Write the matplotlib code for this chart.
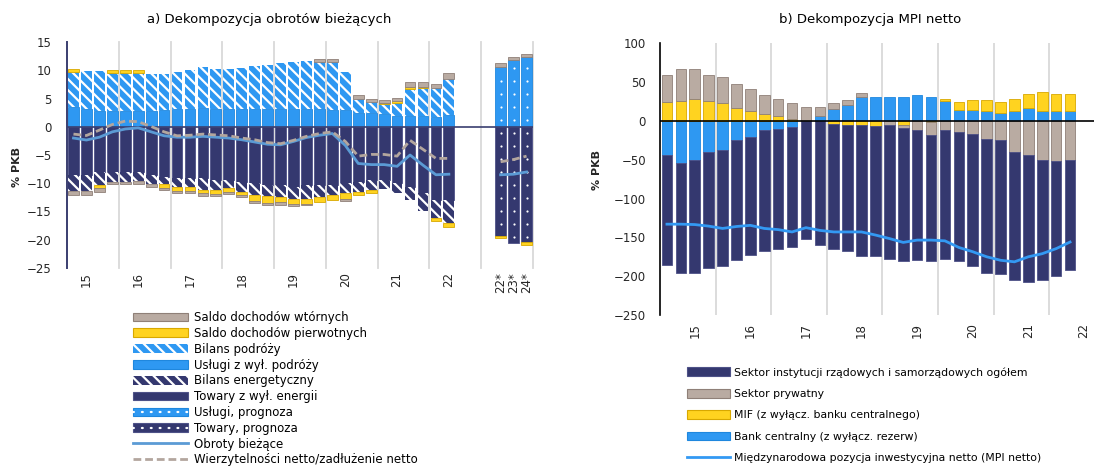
import matplotlib.pyplot as plt
from matplotlib.patches import Patch
from matplotlib.lines import Line2D
import numpy as np

# a) Dekompozycja obrotow biezacych, % PKB, 2015Q1-2022Q2
lata_a = ['15', '16', '17', '18', '19', '20', '21', '22']
uslugi = [3.5, 3.1, 2.8, 2.8, 2.8, 2.8, 2.8, 2.9, 3.2, 3.1, 3.4, 3.1, 3.2, 3.2, 3.1,
          3.2, 3.2, 3.2, 3.2, 3.2, 2.95, 2.95, 2.5, 2.5, 2.2, 1.9, 1.9, 1.9, 1.8, 2.1]
podroze = [6.2, 6.8, 7.1, 6.7, 6.7, 6.7, 6.6, 6.5, 6.5, 6.9, 7.2, 7.2, 7.1, 7.2, 7.6,
           7.7, 8.0, 8.2, 8.5, 8.3, 8.55, 6.75, 2.5, 1.9, 1.8, 2.35, 4.7, 4.9, 5.0, 6.3]
towary = [-8.55, -8.55, -8.0, -8.0, -8.0, -8.0, -8.55, -8.85, -9.1, -9.1, -9.1, -9.4, -9.4, -9.7, -9.9,
          -10.3, -10.3, -10.6, -10.3, -10.3, -10.3, -10.0, -9.7, -9.4, -9.4, -10.0, -10.6, -11.8, -13.0, -13.0]
energia = [-2.85, -2.85, -2.3, -1.7, -1.7, -1.6, -1.6, -1.35, -1.5, -1.6, -2.1, -1.8, -1.5, -1.8, -2.2,
           -2.0, -2.1, -2.1, -2.4, -2.1, -1.7, -1.8, -1.8, -1.8, -1.7, -1.7, -2.3, -3.1, -3.1, -4.1]
pierwotne = [0.5, 0.0, -0.6, 0.5, 0.5, 0.5, 0.0, -0.6, -0.7, -0.6, -0.6, -0.7, -0.6, -0.6, -1.0,
             -1.2, -1.0, -0.9, -0.9, -1.0, -1.0, -0.9, -0.5, -0.5, 0.25, 0.25, 0.35, 0.3, -0.5, -0.6]
wtorne = [-0.6, -0.6, -0.6, -0.5, -0.5, -0.5, -0.5, -0.4, -0.5, -0.5, -0.4, -0.4, -0.4, -0.4, -0.4,
          -0.4, -0.4, -0.4, -0.3, 0.45, 0.45, -0.4, 0.7, 0.45, 0.45, 0.5, 1.0, 0.8, 0.7, 1.05]
obroty = [-2.0, -2.35, -1.85, -0.9, -0.4, -0.2, -0.9, -1.6, -1.85, -1.85, -1.7, -1.85, -2.0, -2.3, -2.7,
          -3.1, -3.2, -2.6, -1.9, -1.5, -1.2, -3.3, -6.5, -6.7, -6.7, -7.0, -5.0, -6.8, -8.5, -8.4]
wierzytelnosci = [-1.3, -1.55, -0.6, 0.4, 1.0, 0.9, 0.05, -0.9, -1.6, -1.5, -1.3, -1.45, -1.6, -2.0, -2.3,
                  -2.8, -3.0, -2.4, -1.7, -1.2, -0.9, -2.6, -5.2, -4.9, -4.9, -5.2, -2.4, -4.0, -5.6, -5.6]

# prognoza 2022-2024
lata_prog = ['22*', '23*', '24*']
prog_uslugi = [10.6, 11.8, 12.4]
prog_towary = [-19.35, -20.5, -20.35]
prog_pierwotne = [-0.4, 0.0, -0.5]
prog_wtorne = [0.6, 0.5, 0.5]
prog_obroty = [-8.5, -8.4, -8.0]
prog_wierzytelnosci = [-6.2, -5.8, -5.2]

# b) Dekompozycja MPI netto, % PKB, 2015Q1-2022Q2
lata_b = ['15', '16', '17', '18', '19', '20', '21', '22']
bank = [-44.2, -54.1, -49.8, -39.9, -36.9, -24.9, -20.6, -12.0, -9.9, -7.7, 0.0, 6.9, 15.0, 20.2, 30.9,
        30.9, 30.9, 30.9, 33.1, 30.9, 25.3, 14.6, 14.6, 12.5, 10.7, 12.5, 17.2, 12.5, 12.5, 12.5]
mif = [24.5, 25.8, 27.9, 25.8, 23.6, 17.2, 12.9, 8.6, 6.4, 2.1, 0.0, 0.0, -4.3, -5.6, -5.6,
       -6.4, 0.0, -4.7, 0.0, -2.0, 3.5, 9.9, 12.0, 14.1, 13.8, 16.3, 18.0, 24.9, 22.7, 22.7]
prywatny = [34.3, 41.6, 39.5, 33.0, 33.1, 30.9, 28.7, 24.5, 22.4, 21.1, 18.0, 11.1, 8.2, 7.3, 5.2,
            0.0, -5.6, -4.3, -12.0, -16.5, -12.0, -14.2, -17.2, -22.8, -24.9, -39.9, -44.2, -50.7, -52.0, -50.7]
rzad = [-141.7, -141.7, -146.0, -149.4, -150.3, -153.7, -151.6, -155.9, -154.5, -154.6, -151.9, -160.2,
        -160.1, -162.3, -168.7, -167.9, -171.7, -171.3, -166.6, -161.8, -165.3, -166.1, -170.0, -172.6,
        -172.6, -165.3, -163.2, -154.5, -147.7, -140.8]
mpi = [-133, -133, -133.5, -135.5, -138.5, -136, -134.5, -138.5, -140, -143, -137.5, -141, -143, -143, -143,
       -147, -151.5, -156.5, -153.5, -153.5, -154.5, -163, -168.5, -175, -179.5, -181.5, -175, -171, -164.5, -156]

NAVY = '#34386F'
BLUE = '#2E98F2'
YELLOW = '#FFD320'
GRAY = '#B9ABA2'
HATCH = '\\\\\\'

plt.rcParams['hatch.linewidth'] = 1.6


def stacked(ax, x, series, styles, width):
    # positive parts go up from 0, negative parts go down from 0
    x = np.asarray(x, float)
    pos = np.zeros(len(x))
    neg = np.zeros(len(x))
    for vals, st in zip(series, styles):
        v = np.asarray(vals, float)
        base = np.where(v >= 0, pos, neg)
        keep = v != 0
        ax.bar(x[keep], v[keep], width, bottom=base[keep], zorder=2, **st)
        pos += np.clip(v, 0, None)
        neg += np.clip(v, None, 0)


def dotted(ax, x, vals, step):
    # sparse white dots inside forecast bars
    for xi, v in zip(x, vals):
        ys = np.arange(step / 2, abs(v) - step / 4, step) * np.sign(v)
        ax.scatter(np.full(len(ys), xi), ys, s=2.5, color='white', linewidths=0, zorder=3)


st_uslugi = dict(facecolor=BLUE, edgecolor='#1F87DE', linewidth=0.6)
st_podroze = dict(facecolor=BLUE, edgecolor='white', linewidth=0, hatch=HATCH)
st_towary = dict(facecolor=NAVY, edgecolor='#4E5288', linewidth=0.6)
st_energia = dict(facecolor=NAVY, edgecolor='white', linewidth=0, hatch=HATCH)
st_pierw = dict(facecolor=YELLOW, edgecolor='#D8A800', linewidth=0.6)
st_wtorne = dict(facecolor=GRAY, edgecolor='#8F8078', linewidth=0.6)

W, H = 1094, 474
fig = plt.figure(figsize=(W / 100, H / 100), dpi=100)

# ---------------- panel a ----------------
axA = fig.add_axes([67 / W, 1 - 268 / H, 466 / W, 226 / H])
n = len(uslugi)
xh = np.arange(n)
xp = np.arange(33, 36)

stacked(axA, xh, [uslugi, podroze, towary, energia, pierwotne, wtorne],
        [st_uslugi, st_podroze, st_towary, st_energia, st_pierw, st_wtorne], 0.83)
stacked(axA, xp, [prog_uslugi, prog_towary, prog_pierwotne, prog_wtorne],
        [st_uslugi, st_towary, st_pierw, st_wtorne], 0.83)
dotted(axA, xp, prog_uslugi, 2.3)
dotted(axA, xp, prog_towary, 2.3)

axA.plot(xh, obroty, color='#5B9BD5', lw=2.0, zorder=4)
axA.plot(xp, prog_obroty, color='#5B9BD5', lw=2.0, zorder=4)
axA.plot(xh, wierzytelnosci, color='#B3A69E', lw=2.0, dashes=(2.8, 1.4), zorder=4)
axA.plot(xp, prog_wierzytelnosci, color='#B3A69E', lw=2.0, dashes=(2.8, 1.4), zorder=4)

for k in range(1, 10):
    axA.axvline(4 * k - 0.5, color='#D9D9D9', lw=1.3, zorder=0, clip_on=False)
axA.axhline(0, color='#3A3E70', lw=1.2, zorder=3)

axA.set_xlim(-0.5, 35.5)
axA.set_ylim(-25, 15)
axA.set_yticks(range(-25, 16, 5))
axA.set_xticks([4 * i + 1 for i in range(len(lata_a))] + list(xp))
axA.set_xticklabels(lata_a + lata_prog, rotation=90)
axA.tick_params(axis='y', length=0, pad=11, labelsize=8.5, labelcolor='#262626')
axA.tick_params(axis='x', length=0, pad=3, labelsize=8.5, labelcolor='#262626')
for s in ['top', 'right', 'bottom']:
    axA.spines[s].set_visible(False)
axA.spines['left'].set_color('#3A3E70')
axA.spines['left'].set_linewidth(1.4)

fig.text(269 / W, 1 - 20 / H, 'a) Dekompozycja obrotów bieżących', ha='center', va='center', fontsize=9.5)
fig.text(17 / W, 1 - 167 / H, '% PKB', rotation=90, ha='center', va='center', fontsize=8,
         color='#262626', fontweight='bold')

dots = dict(color='white', lw=1.6, dashes=(0.4, 3.6), dash_capstyle='round')
hA = [Patch(facecolor=GRAY, edgecolor='#8F8078', lw=0.8),
      Patch(facecolor=YELLOW, edgecolor='#D8A800', lw=0.8),
      Patch(facecolor=BLUE, edgecolor='white', lw=0, hatch=HATCH),
      Patch(facecolor=BLUE, edgecolor='#1F87DE', lw=0.8),
      Patch(facecolor=NAVY, edgecolor='white', lw=0, hatch=HATCH),
      Patch(facecolor=NAVY, edgecolor='#4E5288', lw=0.8),
      (Patch(facecolor=BLUE, edgecolor='#1F87DE', lw=0.8), Line2D([], [], **dots)),
      (Patch(facecolor=NAVY, edgecolor='#4E5288', lw=0.8), Line2D([], [], **dots)),
      Line2D([], [], color='#5B9BD5', lw=2.0),
      Line2D([], [], color='#B3A69E', lw=2.0, dashes=(2.8, 1.4))]
lA = ['Saldo dochodów wtórnych', 'Saldo dochodów pierwotnych', 'Bilans podróży',
      'Usługi z wył. podróży', 'Bilans energetyczny', 'Towary z wył. energii',
      'Usługi, prognoza', 'Towary, prognoza', 'Obroty bieżące',
      'Wierzytelności netto/zadłużenie netto']
fig.legend(hA, lA, loc='upper left', bbox_to_anchor=(133 / W, 1 - 311 / H), frameon=False,
           fontsize=8.5, handlelength=4.65, handleheight=0.76, labelspacing=0.24,
           handletextpad=0.5, borderpad=0, borderaxespad=0)

# ---------------- panel b ----------------
axB = fig.add_axes([660 / W, 1 - 315 / H, 434 / W, 271.7 / H])
xb = np.arange(len(rzad))
st_bank = dict(facecolor=BLUE, edgecolor='#1F87DE', linewidth=0.6)
st_mif = dict(facecolor=YELLOW, edgecolor='#D8A800', linewidth=0.6)
st_pryw = dict(facecolor=GRAY, edgecolor='#8F8078', linewidth=0.6)
st_rzad = dict(facecolor=NAVY, edgecolor='#4E5288', linewidth=0.6)
stacked(axB, xb, [bank, mif, prywatny, rzad], [st_bank, st_mif, st_pryw, st_rzad], 0.76)
axB.plot(xb, mpi, color='#3399F3', lw=2.0, zorder=4)

for k in range(1, 8):
    axB.axvline(4 * k - 0.5, color='#D9D9D9', lw=1.3, zorder=0)
axB.axhline(0, color='black', lw=1.2, zorder=3)

axB.set_xlim(-0.5, -0.5 + 434 / 13.9)
axB.set_ylim(-250, 100)
axB.set_yticks(range(-250, 101, 50))
axB.set_xticks([4 * i + 2 for i in range(len(lata_b))])
axB.set_xticklabels(lata_b, rotation=90)
axB.tick_params(axis='y', length=0, pad=10, labelsize=8.5, labelcolor='#262626')
axB.tick_params(axis='x', length=0, pad=6, labelsize=8.5, labelcolor='#262626')
for s in ['top', 'right', 'bottom']:
    axB.spines[s].set_visible(False)
axB.spines['left'].set_color('black')
axB.spines['left'].set_linewidth(1.2)

fig.text(870 / W, 1 - 20 / H, 'b) Dekompozycja MPI netto', ha='center', va='center', fontsize=9.5)
fig.text(597 / W, 1 - 170 / H, '% PKB', rotation=90, ha='center', va='center', fontsize=8,
         color='#262626', fontweight='bold')

hB = [Patch(facecolor=NAVY, edgecolor='#4E5288', lw=0.8),
      Patch(facecolor=GRAY, edgecolor='#8F8078', lw=0.8),
      Patch(facecolor=YELLOW, edgecolor='#D8A800', lw=0.8),
      Patch(facecolor=BLUE, edgecolor='#1F87DE', lw=0.8),
      Line2D([], [], color='#3399F3', lw=2.0)]
lB = ['Sektor instytucji rządowych i samorządowych ogółem', 'Sektor prywatny',
      'MIF (z wyłącz. banku centralnego)', 'Bank centralny (z wyłącz. rezerw)',
      'Międzynarodowa pozycja inwestycyjna netto (MPI netto)']
fig.legend(hB, lB, loc='upper left', bbox_to_anchor=(687 / W, 1 - 367 / H), frameon=False,
           fontsize=7.8, handlelength=4.0, handleheight=0.85, labelspacing=1.05,
           handletextpad=0.3, borderpad=0, borderaxespad=0)

fig.savefig('out.png', dpi=100)
